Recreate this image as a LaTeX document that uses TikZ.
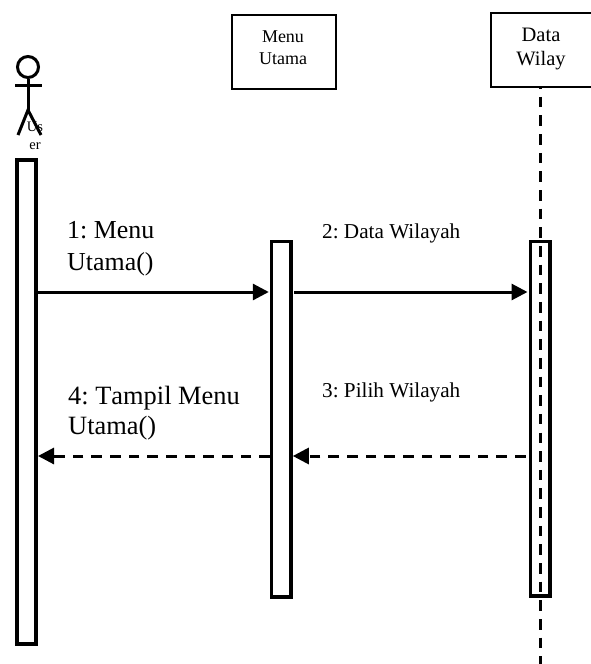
\documentclass[tikz,border=0pt]{standalone}
\usepackage{fontspec}
\setmainfont{Liberation Serif}
\usetikzlibrary{arrows.meta}
\begin{document}
\frenchspacing
\begin{tikzpicture}[x=1pt,y=-1pt,
  objbox/.style={draw=black,line width=2pt,fill=white,inner sep=0pt},
  actbar/.style={draw=black,line width=3.6pt,fill=white,inner sep=0pt,minimum width=19.4pt},
  stick/.style={draw=black,line width=3pt},
  msg/.style={draw=black,line width=3pt,-{Triangle[length=16pt,width=16pt]}},
  ret/.style={msg,dash pattern=on 10.6pt off 8.05pt},
  life/.style={draw=black,line width=3pt,dash pattern=on 10.6pt off 8.05pt},
  lbl/.style={anchor=west,inner sep=0pt,align=left}]
\useasboundingbox (0,0) rectangle (590,664);
% lifeline under everything
\coordinate (lifetop) at (540,78.15);
\coordinate (lifeend) at (540,664);
\draw[life] (lifetop) -- (lifeend);
% objects
\node[objbox,minimum width=104.5pt,minimum height=74.5pt] (menu) at (283.9,52) {};
\node[font=\fontsize{18}{22}\selectfont,align=center,inner sep=0pt] (menutxt) at (283,48) {Menu\\Utama};
\node[objbox,minimum width=110pt,minimum height=74pt,anchor=north west] (data) at (490,11.7) {};
\node[font=\fontsize{20.5}{24}\selectfont,align=center,inner sep=0pt] (datatxt) at (541,48.5) {Data\\Wilay};
% activations
\node[actbar,minimum height=484.4pt,anchor=north] (a1) at (26.5,158) {};
\node[actbar,minimum height=355.9pt,anchor=north] (a2) at (281.3,239.5) {};
\node[actbar,minimum height=354.9pt,anchor=north,fill=none] (a3) at (540,239.5) {};
% actor
\node[draw=black,line width=3pt,circle,minimum size=21pt,inner sep=0pt] (head) at (28,67) {};
\coordinate (hip) at (28,110);
\coordinate (armL) at (15,85);
\coordinate (armR) at (42,85);
\coordinate (legL) at (18,135);
\coordinate (legR) at (41,135);
\draw[stick] (head.south) -- (hip);
\draw[stick] (armL) -- (armR);
\draw[stick] (legL) -- (hip) -- (legR);
\node[font=\fontsize{14.5}{18}\selectfont,align=center,inner sep=0pt] (user) at (35,136) {Us\\er};
% messages
\coordinate (y1) at (0,292);
\coordinate (y2) at (0,456);
\draw[msg] (a1.east |- y1) -- ([xshift=-1pt]a2.west |- y1);
\draw[msg] ([xshift=1.5pt]a2.east |- y1) -- ([xshift=-1pt]a3.west |- y1);
\draw[ret] ([xshift=-3pt]a3.west |- y2) -- (a2.east |- y2);
\draw[ret] (a2.west |- y2) -- (a1.east |- y2);
% labels
\node[lbl,font=\fontsize{25.9}{32}\selectfont] (l1) at (67,249) {1: Menu\\Utama()};
\node[lbl,font=\fontsize{21.2}{24}\selectfont] (l2) at (322,233) {2: Data Wilayah};
\node[lbl,font=\fontsize{21.2}{24}\selectfont] (l3) at (322,392) {3: Pilih Wilayah};
\node[lbl,font=\fontsize{26.4}{30}\selectfont\addfontfeature{Kerning=Off}] (l4) at (68,413) {4: Tampil Menu\\Utama()};
\end{tikzpicture}
\end{document}
